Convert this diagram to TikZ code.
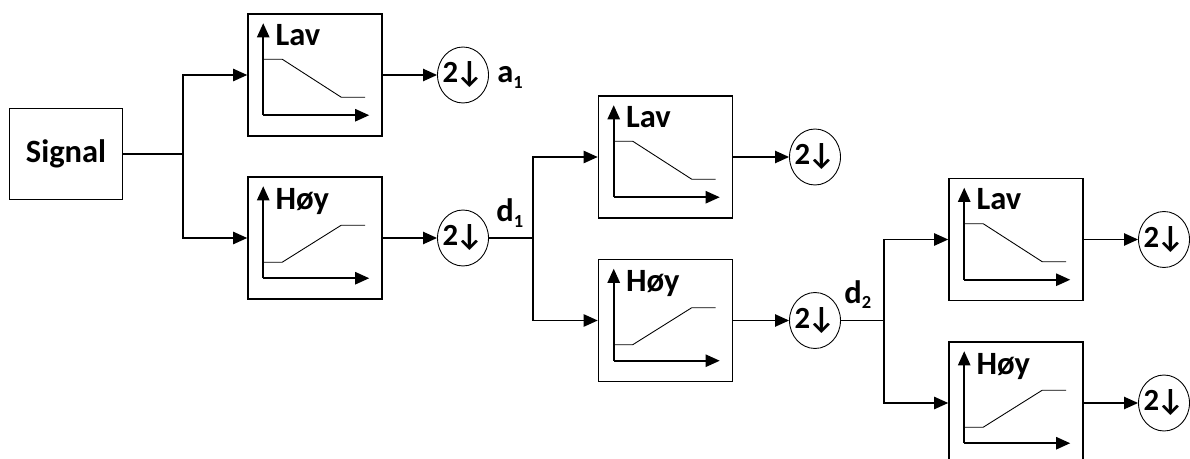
\documentclass[tikz,border=0pt]{standalone}
\usepackage{fontspec}
\setmainfont{Carlito}
\usetikzlibrary{arrows.meta,shapes.geometric,positioning}

\newcommand{\bigbf}{\bfseries\fontsize{18.5}{22}\selectfont}
\newcommand{\sub}[1]{\raisebox{-3pt}{\fontsize{10.5}{12}\selectfont #1}}

\tikzset{
  blk/.style={draw,line width=0.9pt,minimum width=2.68cm,
    minimum height=2.44cm,inner sep=0pt},
  sigbox/.style={draw,line width=0.9pt,minimum width=2.26cm,
    minimum height=1.82cm,font=\bigbf},
  dwn/.style={draw,ellipse,line width=0.5pt,minimum width=1.02cm,
    minimum height=1.12cm,inner sep=-4pt,
    font=\bfseries\fontsize{17.5}{21}\selectfont},
  wire/.style={line width=0.9pt},
  feed/.style={wire,-{Triangle[length=8pt,width=7pt]}},
  lbl/.style={font=\bigbf,inner sep=0pt},
  % small response plots inside the filter boxes
  lav/.pic={
    \draw[feed] (16,102) -- (16,10);
    \draw[feed] (16,102) -- (122,102);
    \draw[line width=0.5pt] (16,46) -- (35,46) -- (94,84) -- (118,84);
    \node[lbl,anchor=base west] (-txt) at (28,32) {Lav};
  },
  hoy/.pic={
    \draw[feed] (16,102) -- (16,10);
    \draw[feed] (16,102) -- (122,102);
    \draw[line width=0.5pt] (16,86) -- (35,86) -- (94,49) -- (118,49);
    \node[lbl,anchor=base west] (-txt) at (28,33) {Høy};
  },
}

\begin{document}
\begin{tikzpicture}[x=0.02cm,y=-0.02cm]
  \useasboundingbox (0,0) rectangle (1190,459);

  \node[sigbox] (sig) at (66,154) {Signal};

  % first level
  \node[blk] (lav1) at (315,75) {};
  \node[blk] (hoy1) at (315,238) {};
  \pic (p1) at (lav1.north west) {lav};
  \pic (q1) at (hoy1.north west) {hoy};
  \node[dwn] (dn1) at (463,75) {2\kern-1.5pt↓};
  \node[dwn] (dn2) at (463,238) {2\kern-1.5pt↓};
  \node[lbl,anchor=base west] (a1) at (497,83) {a\sub{1}};
  \node[lbl,anchor=base west] (d1) at (496,222) {d\sub{1}};
  \coordinate (j1) at (183,154);
  \draw[wire] (sig) -- (j1);
  \draw[feed] (j1) |- (lav1);
  \draw[feed] (j1) |- (hoy1);
  \draw[feed] (lav1) -- (dn1);
  \draw[feed] (hoy1) -- (dn2);

  % second level
  \node[blk] (lav2) at (665.5,157) {};
  \node[blk] (hoy2) at (665.5,320.5) {};
  \pic (p2) at (lav2.north west) {lav};
  \pic (q2) at (hoy2.north west) {hoy};
  \node[dwn] (dn3) at (815,157) {2\kern-1.5pt↓};
  \node[dwn] (dn4) at (815,320.5) {2\kern-1.5pt↓};
  \node[lbl,anchor=base west] (d2) at (844,303) {d\sub{2}};
  \coordinate (j2) at (533,238);
  \draw[wire] (dn2) -- (j2);
  \draw[feed] (j2) |- (lav2);
  \draw[feed] (j2) |- (hoy2);
  \draw[feed] (lav2) -- (dn3);
  \draw[feed] (hoy2) -- (dn4);

  % third level
  \node[blk] (lav3) at (1016,239.5) {};
  \node[blk] (hoy3) at (1016,403) {};
  \pic (p3) at (lav3.north west) {lav};
  \pic (q3) at (hoy3.north west) {hoy};
  \node[dwn] (dn5) at (1164,239.5) {2\kern-1.5pt↓};
  \node[dwn] (dn6) at (1164,403) {2\kern-1.5pt↓};
  \coordinate (j3) at (884,320.5);
  \draw[wire] (dn4) -- (j3);
  \draw[feed] (j3) |- (lav3);
  \draw[feed] (j3) |- (hoy3);
  \draw[feed] (lav3) -- (dn5);
  \draw[feed] (hoy3) -- (dn6);
\end{tikzpicture}
\end{document}
